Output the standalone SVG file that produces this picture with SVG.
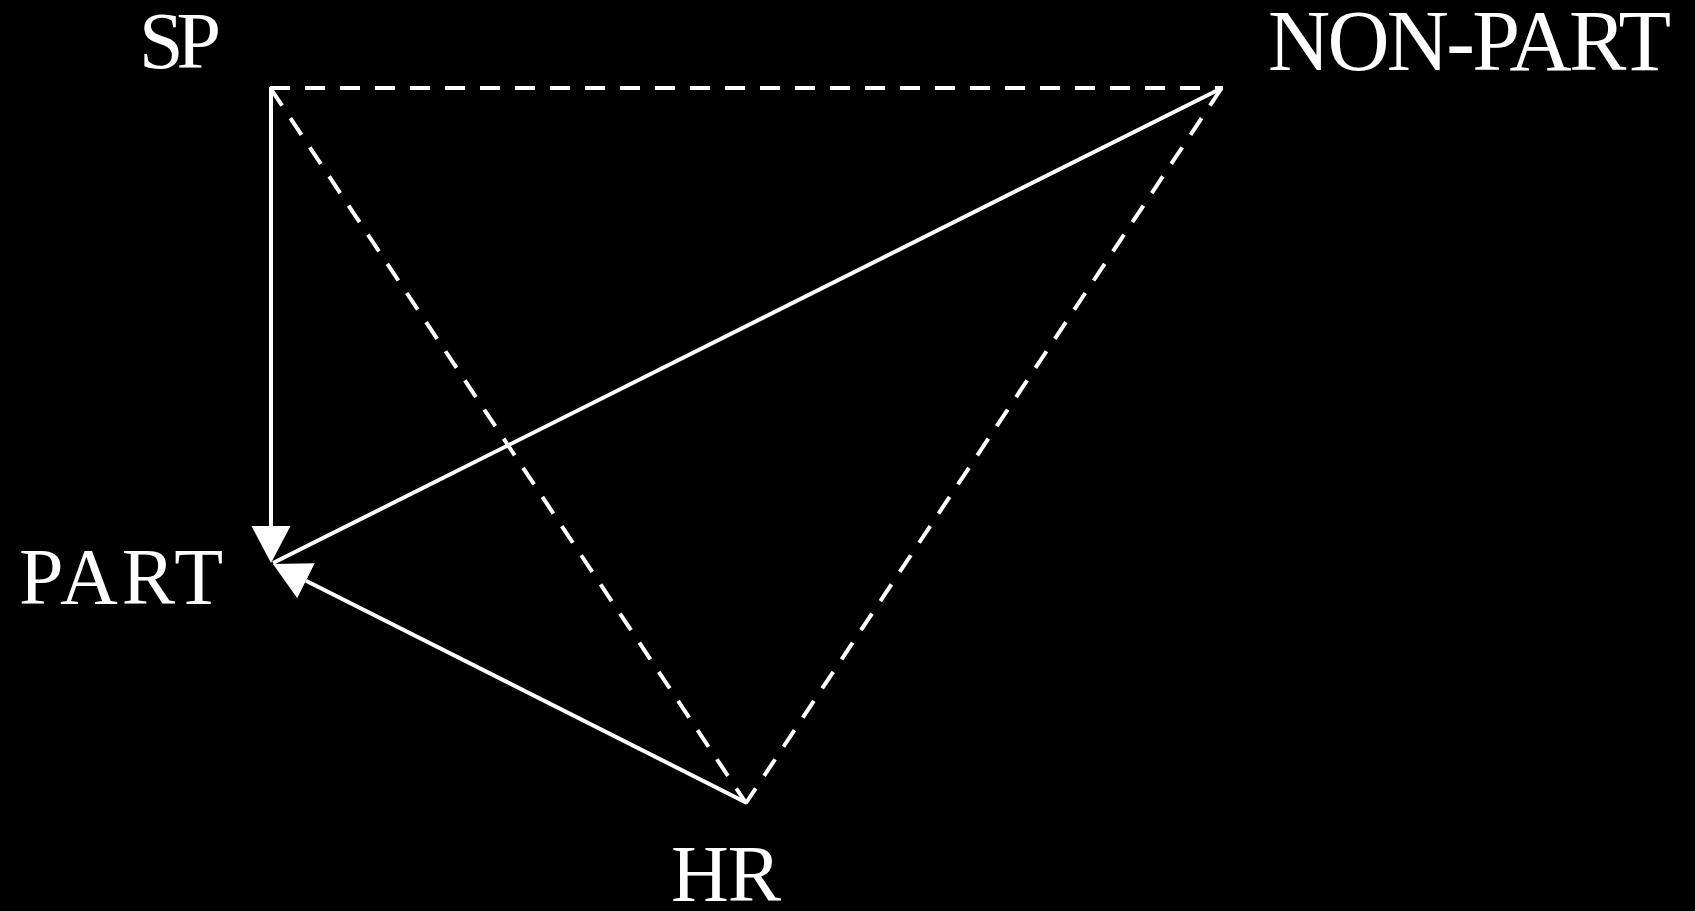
<svg xmlns="http://www.w3.org/2000/svg" width="1695" height="911" viewBox="0 0 1695 911">
  <style>
    .lbl { font-family: "Liberation Serif", "Times New Roman", serif; font-size: 80px; fill: #ffffff; }
    .big { font-size: 86px; }
    .solid { stroke: #ffffff; stroke-width: 4; fill: none; }
    .dash { stroke: #ffffff; stroke-width: 4; fill: none; stroke-dasharray: 20 15; }
  </style>
  <defs>
    <marker id="arrow" markerUnits="userSpaceOnUse" markerWidth="38" markerHeight="40" refX="0" refY="19.5" orient="auto" viewBox="0 0 38 40">
      <path d="M0,0 L37,19.5 L0,39 z" fill="#ffffff"/>
    </marker>
  </defs>
  <rect x="0" y="0" width="1695" height="911" fill="#000000"/>
  <g id="connectors">
    <line class="dash" x1="270" y1="88" x2="1223" y2="88"/>
    <line class="dash" x1="271" y1="89" x2="746" y2="803"/>
    <line class="dash" x1="1221" y1="89" x2="746" y2="803"/>
    <line class="solid" x1="1222" y1="88" x2="273" y2="563"/>
    <line class="solid" x1="271" y1="87" x2="271" y2="526" marker-end="url(#arrow)"/>
    <line class="solid" x1="747" y1="803" x2="306" y2="580.7" marker-end="url(#arrow)"/>
  </g>
  <g id="node-sp"><text class="lbl" x="139" y="68" textLength="82" lengthAdjust="spacing">SP</text></g>
  <g id="node-nonpart"><text class="lbl big" x="1268" y="70" textLength="403" lengthAdjust="spacing">NON-PART</text></g>
  <g id="node-part"><text class="lbl" x="19" y="604" textLength="204" lengthAdjust="spacing">PART</text></g>
  <g id="node-hr"><text class="lbl" x="671" y="901" textLength="110" lengthAdjust="spacing">HR</text></g>
</svg>
